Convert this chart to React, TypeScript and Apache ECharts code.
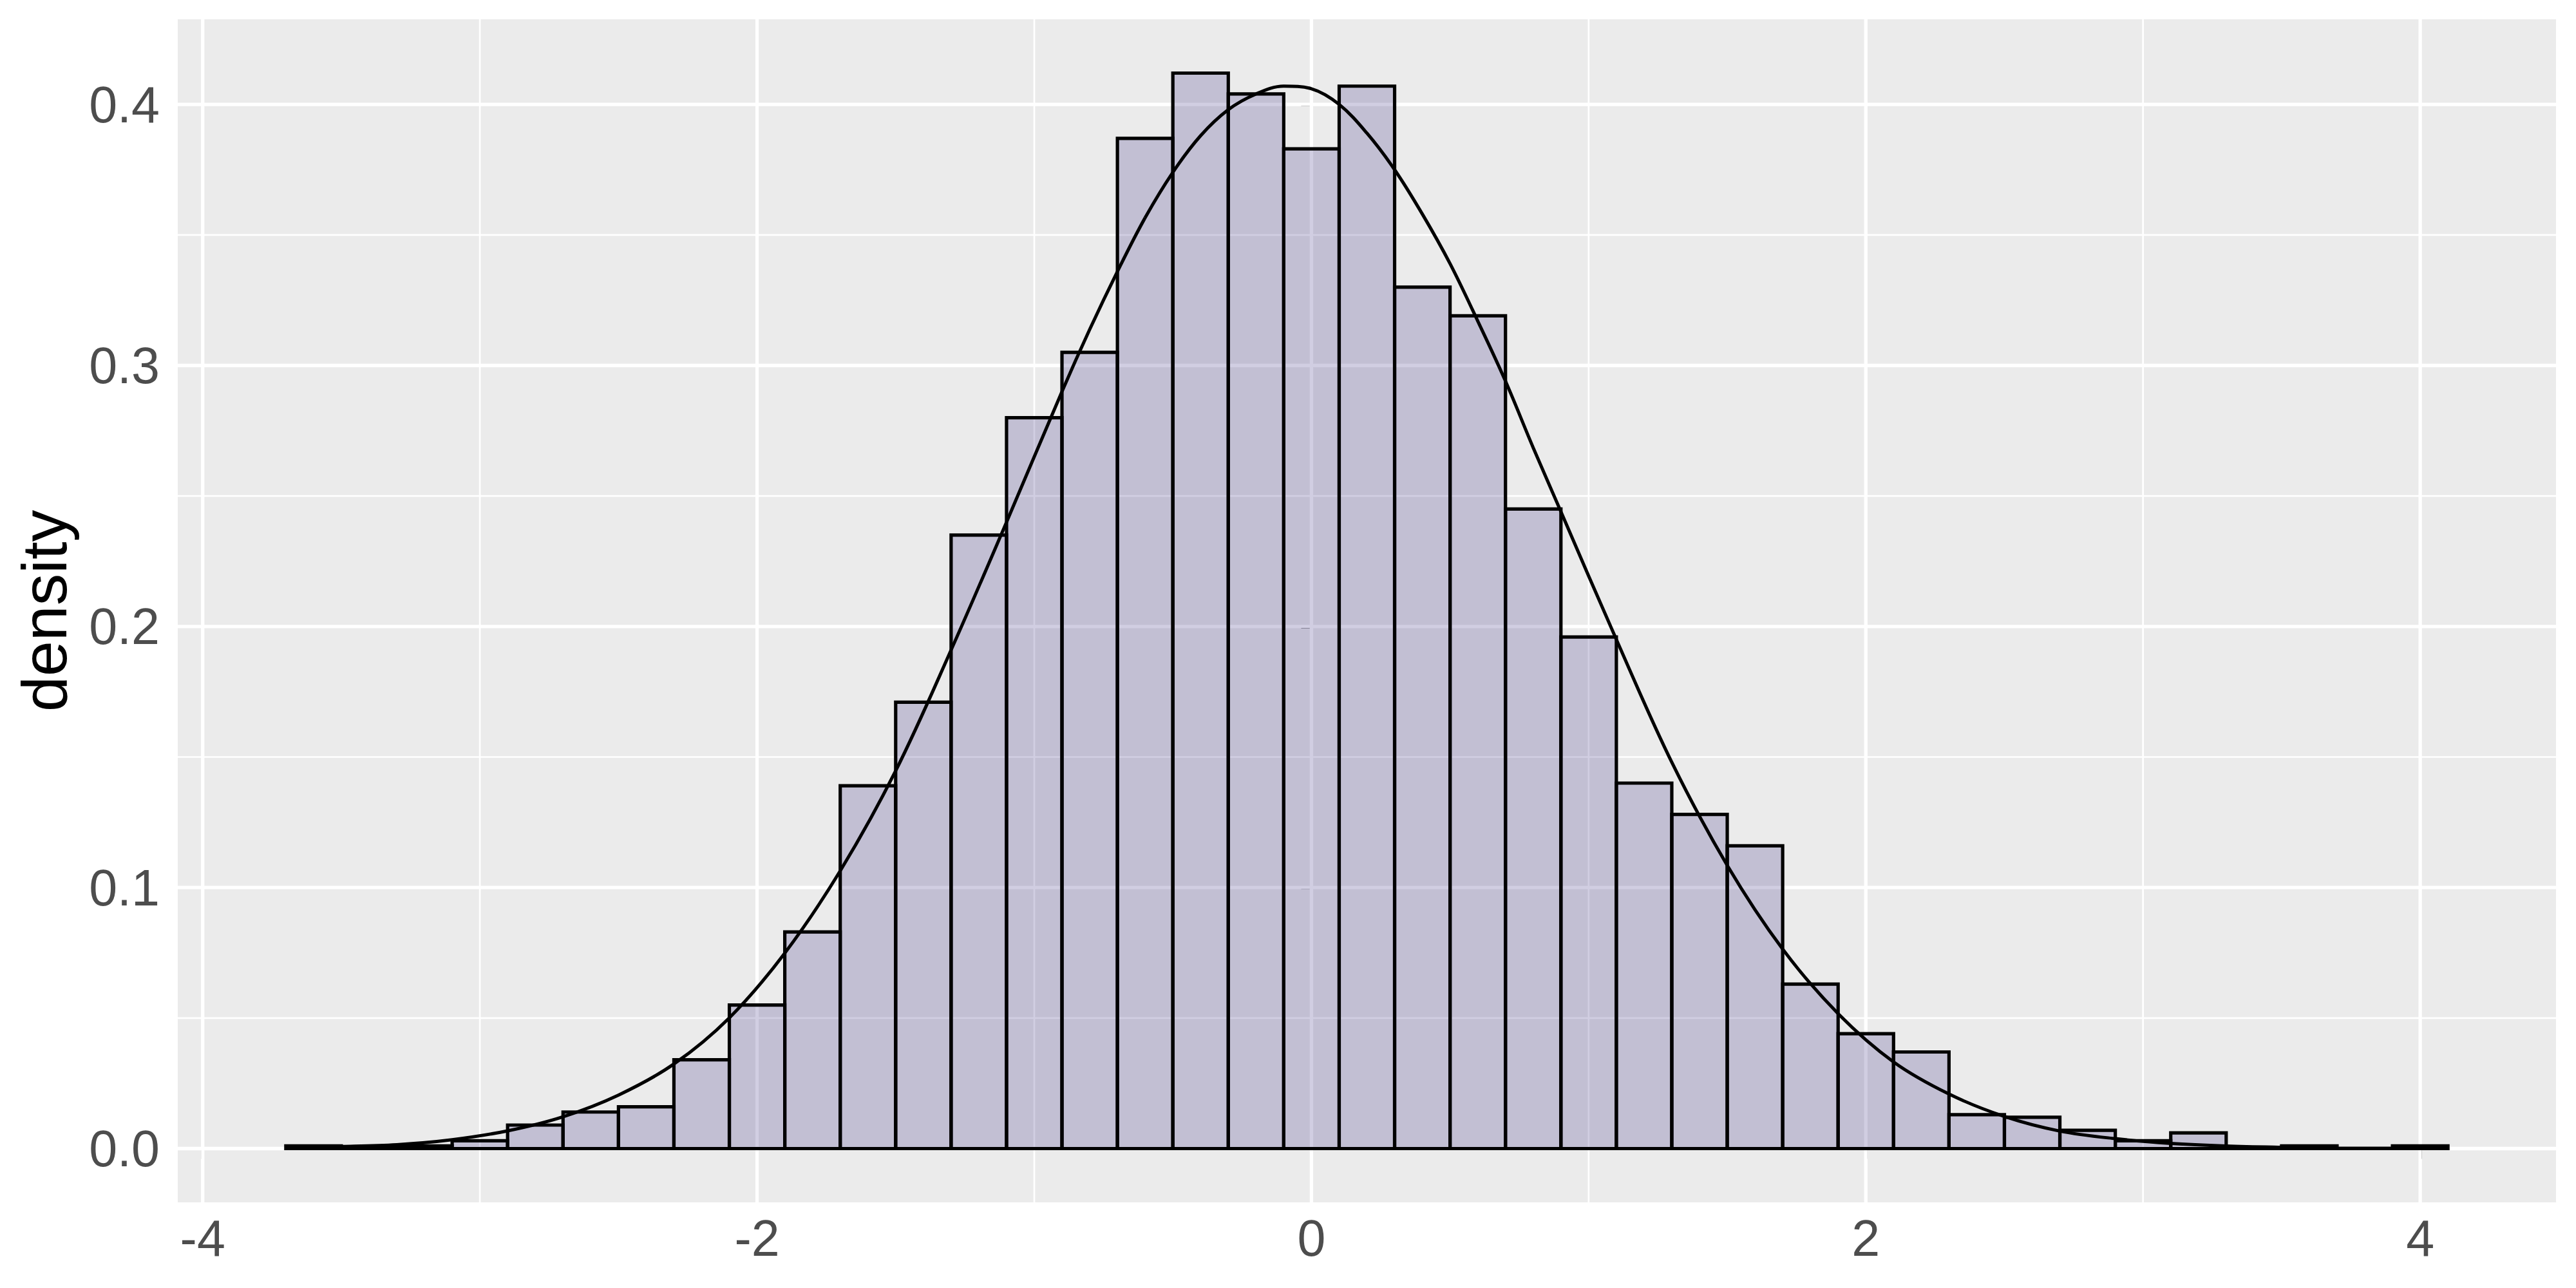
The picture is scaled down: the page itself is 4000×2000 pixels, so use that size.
import React, { useEffect, useRef } from "react";
import * as echarts from "echarts";

// ---- data ----
const BIN_WIDTH = 0.2;
const binCenters = [
  -3.6, -3.4, -3.2, -3.0, -2.8, -2.6, -2.4, -2.2, -2.0, -1.8, -1.6, -1.4, -1.2,
  -1.0, -0.8, -0.6, -0.4, -0.2, 0.0, 0.2, 0.4, 0.6, 0.8, 1.0, 1.2, 1.4, 1.6,
  1.8, 2.0, 2.2, 2.4, 2.6, 2.8, 3.0, 3.2, 3.4, 3.6, 3.8, 4.0,
];
const binDensity = [
  0.001, 0.0005, 0.001, 0.003, 0.009, 0.014, 0.016, 0.034, 0.055, 0.083, 0.139,
  0.171, 0.235, 0.28, 0.305, 0.387, 0.412, 0.404, 0.383, 0.407, 0.33, 0.319,
  0.245, 0.196, 0.14, 0.128, 0.116, 0.063, 0.044, 0.037, 0.013, 0.012, 0.007,
  0.003, 0.006, 0, 0.001, 0, 0.001,
];
const curveX = [
  -3.7, -3.5, -3.3, -3.1, -2.9, -2.7, -2.5, -2.3, -2.1, -1.9, -1.7, -1.5, -1.3,
  -1.1, -0.9, -0.8, -0.7, -0.6, -0.5, -0.4, -0.3, -0.2, -0.1, 0, 0.1, 0.2, 0.3,
  0.4, 0.5, 0.6, 0.7, 0.8, 0.9, 1.1, 1.3, 1.5, 1.7, 1.9, 2.1, 2.3, 2.5, 2.7,
  2.9, 3.1, 3.3, 3.5, 3.7, 3.9, 4.1,
];
const curveY = [
  0.0004, 0.0008, 0.0015, 0.0034, 0.0068, 0.0122, 0.0205, 0.0324, 0.0501,
  0.0749, 0.1064, 0.1447, 0.191, 0.24, 0.29, 0.3138, 0.336, 0.3566, 0.374,
  0.388, 0.398, 0.404, 0.407, 0.406, 0.4, 0.389, 0.375, 0.358, 0.339, 0.317,
  0.294, 0.2685, 0.244, 0.195, 0.148, 0.1085, 0.0764, 0.0517, 0.0332, 0.0209,
  0.0123, 0.0067, 0.0038, 0.002, 0.001, 0.0005, 0.0002, 0.0001, 0.00005,
];
const xMajor = [-4, -2, 0, 2, 4];
const xMinor = [-3, -1, 1, 3];
const yMajor = [0, 0.1, 0.2, 0.3, 0.4];
const yMinor = [0.05, 0.15, 0.25, 0.35];
const X_MIN = -4.09;
const X_MAX = 4.49;
const Y_MIN = -0.0206;
const Y_MAX = 0.4326;
const yTitle = "density";

const FONT = "'Liberation Sans', Arial, Helvetica, sans-serif";

export default function App() {
  const ref = useRef<HTMLDivElement>(null);

  useEffect(() => {
    document.body.style.margin = "0";
    if (!ref.current) return;
    const chart = echarts.init(ref.current, undefined, { renderer: "svg" });

    const vGrid = [
      ...xMajor.map((v) => [v, 1]),
      ...xMinor.map((v) => [v, 0]),
    ];
    const hGrid = [
      ...yMajor.map((v) => [v, 1]),
      ...yMinor.map((v) => [v, 0]),
    ];

    const option: any = {
      animation: false,
      backgroundColor: "#FFFFFF",
      grid: {
        left: 276,
        top: 30,
        right: 31,
        bottom: 133,
        show: true,
        backgroundColor: "#EBEBEB",
        borderWidth: 0,
        containLabel: false,
      },
      xAxis: {
        type: "value",
        min: X_MIN,
        max: X_MAX,
        axisLine: { show: false },
        splitLine: { show: false },
        axisTick: {
          show: true,
          customValues: xMajor,
          length: 16,
          lineStyle: { color: "#333333", width: 5 },
        },
        axisLabel: {
          show: true,
          customValues: xMajor,
          formatter: (v: number) => String(v),
          fontSize: 79,
          color: "#4D4D4D",
          fontFamily: FONT,
          margin: 16,
        },
      },
      yAxis: {
        type: "value",
        min: Y_MIN,
        max: Y_MAX,
        name: yTitle,
        nameLocation: "middle",
        nameGap: 158,
        nameTextStyle: { fontSize: 99, color: "#000000", fontFamily: FONT },
        axisLine: { show: false },
        splitLine: { show: false },
        axisTick: {
          show: true,
          customValues: yMajor,
          length: 16,
          lineStyle: { color: "#333333", width: 5 },
        },
        axisLabel: {
          show: true,
          customValues: yMajor,
          formatter: (v: number) => v.toFixed(1),
          fontSize: 79,
          color: "#4D4D4D",
          fontFamily: FONT,
          margin: 28,
        },
      },
      series: [
        {
          type: "custom",
          name: "vgrid",
          z: 1,
          silent: true,
          data: vGrid,
          encode: { x: 0 },
          renderItem: (params: any, api: any) => {
            const v = api.value(0);
            const major = api.value(1) === 1;
            const cs = params.coordSys;
            const x = api.coord([v, 0])[0];
            return {
              type: "line",
              shape: { x1: x, y1: cs.y, x2: x, y2: cs.y + cs.height },
              style: { stroke: "#FFFFFF", lineWidth: major ? 5.3 : 2.7 },
            };
          },
        },
        {
          type: "custom",
          name: "hgrid",
          z: 1,
          silent: true,
          data: hGrid,
          encode: { y: 0 },
          renderItem: (params: any, api: any) => {
            const v = api.value(0);
            const major = api.value(1) === 1;
            const cs = params.coordSys;
            const y = api.coord([0, v])[1];
            return {
              type: "line",
              shape: { x1: cs.x, y1: y, x2: cs.x + cs.width, y2: y },
              style: { stroke: "#FFFFFF", lineWidth: major ? 5.3 : 2.7 },
            };
          },
        },
        {
          type: "custom",
          name: "histogram",
          z: 3,
          data: binCenters.map((c, i) => [c, binDensity[i]]),
          encode: { x: 0, y: 1 },
          renderItem: (params: any, api: any) => {
            const c = api.value(0);
            const h = api.value(1);
            const p0 = api.coord([c - BIN_WIDTH / 2, h]);
            const p1 = api.coord([c + BIN_WIDTH / 2, 0]);
            if (h > 0) {
              return {
                type: "rect",
                shape: {
                  x: p0[0],
                  y: p0[1],
                  width: p1[0] - p0[0],
                  height: p1[1] - p0[1],
                },
                style: {
                  fill: "rgba(72,61,139,0.25)",
                  stroke: "#000000",
                  lineWidth: 5.2,
                },
              };
            }
            return {
              type: "line",
              shape: { x1: p0[0], y1: p1[1], x2: p1[0], y2: p1[1] },
              style: { stroke: "#000000", lineWidth: 5.2 },
            };
          },
        },
        {
          type: "line",
          name: "curve",
          z: 4,
          data: curveX.map((x, i) => [x, curveY[i]]),
          smooth: 0.35,
          symbol: "none",
          lineStyle: { color: "#000000", width: 5 },
        },
      ],
    };

    chart.setOption(option);
    return () => chart.dispose();
  }, []);

  return <div ref={ref} style={{ width: 4000, height: 2000 }} />;
}
